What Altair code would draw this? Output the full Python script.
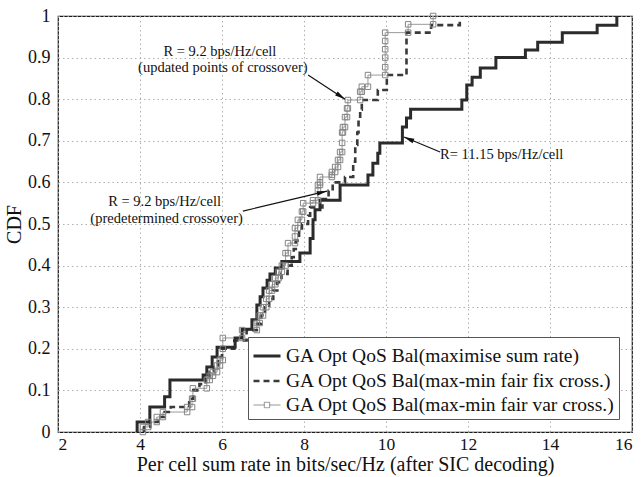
import math
import altair as alt
import pandas as pd

# ---------------- data ----------------
series_names = [
    "GA Opt QoS Bal(maximise sum rate)",
    "GA Opt QoS Bal(max-min fair fix cross.)",
    "GA Opt QoS Bal(max-min fair var cross.)",
]

# step positions (x) and the CDF level reached at each step (y)
solid_x = [3.93, 4.24, 4.6, 4.73, 5.54, 5.63, 5.76, 5.88, 6.32, 6.49,
           6.73, 6.85, 6.93, 7.0, 7.1, 7.17, 7.3, 7.46, 7.9, 8.15,
           8.22, 8.27, 8.39, 8.88, 9.56, 9.68, 9.8, 9.85, 10.4, 10.5,
           10.6, 11.85, 11.97, 12.1, 12.3, 12.68, 13.4, 13.7, 14.3, 15.15,
           15.63]
solid_y = [0.024, 0.06, 0.085, 0.125, 0.137, 0.156, 0.18, 0.204, 0.226, 0.247,
           0.27, 0.305, 0.325, 0.346, 0.365, 0.38, 0.394, 0.41, 0.43, 0.465,
           0.51, 0.534, 0.557, 0.594, 0.618, 0.646, 0.67, 0.695, 0.733, 0.755,
           0.776, 0.798, 0.834, 0.853, 0.875, 0.9, 0.918, 0.937, 0.96, 0.978,
           1.0]

dash_x = [4.1, 4.25, 4.45, 4.6, 4.75, 5.2, 5.3, 5.45, 5.6, 5.7,
          5.8, 5.9, 6.0, 6.3, 6.6, 6.85, 6.95, 7.05, 7.15, 7.25,
          7.35, 7.45, 7.6, 7.7, 7.75, 7.8, 7.88, 7.95, 8.1, 8.15,
          8.45, 8.6, 8.7, 9.0, 9.2, 9.25, 9.3, 9.33, 9.37, 9.41,
          9.8, 10.02, 10.5, 11.1, 11.8]
dash_y = [0.012, 0.024, 0.036, 0.048, 0.06, 0.08, 0.1, 0.115, 0.13, 0.145,
          0.16, 0.18, 0.2, 0.22, 0.245, 0.26, 0.28, 0.3, 0.32, 0.34,
          0.36, 0.38, 0.4, 0.42, 0.44, 0.46, 0.48, 0.5, 0.52, 0.54,
          0.56, 0.58, 0.6, 0.613, 0.65, 0.69, 0.72, 0.75, 0.775, 0.798,
          0.822, 0.858, 0.96, 0.978, 0.99]

sq_x = [4.07, 4.2, 4.41, 4.56, 5.15, 5.27, 5.29, 5.63, 5.7, 5.78,
        5.88, 5.95, 6.02, 6.02, 6.49, 6.85, 6.92, 7.0, 7.08, 7.15,
        7.22, 7.3, 7.38, 7.46, 7.55, 7.61, 7.78, 7.78, 7.85, 7.95,
        7.98, 8.22, 8.34, 8.34, 8.39, 8.39, 8.68, 8.68, 8.76, 8.83,
        8.88, 8.93, 8.93, 8.95, 9.0, 9.05, 9.07, 9.37, 9.41, 9.56,
        9.98, 9.98, 9.98, 9.98, 9.98, 10.54, 11.15]
sq_y = [0.012, 0.024, 0.036, 0.048, 0.06, 0.08, 0.105, 0.125, 0.135, 0.144,
        0.16, 0.173, 0.2, 0.226, 0.245, 0.262, 0.28, 0.3, 0.32, 0.34,
        0.355, 0.37, 0.385, 0.4, 0.43, 0.454, 0.47, 0.49, 0.51, 0.53,
        0.55, 0.557, 0.58, 0.594, 0.6, 0.613, 0.618, 0.625, 0.637, 0.654,
        0.673, 0.695, 0.72, 0.733, 0.757, 0.778, 0.798, 0.818, 0.83, 0.858,
        0.877, 0.9, 0.92, 0.94, 0.96, 0.98, 1.0]

x_ticks = [2, 4, 6, 8, 10, 12, 14, 16]
y_ticks = [0, 0.1, 0.2, 0.3, 0.4, 0.5, 0.6, 0.7, 0.8, 0.9, 1]

# annotations
ann_center_text = ["R = 9.2 bps/Hz/cell", "(updated points of crossover)",
                   "R = 9.2 bps/Hz/cell", "(predetermined crossover)"]
ann_center_x = [5.95, 6.02, 4.6, 4.65]
ann_center_y = [0.913, 0.874, 0.553, 0.512]
ann_left_text = ["R= 11.15 bps/Hz/cell"]
ann_left_x = [11.32]
ann_left_y = [0.667]

arrow_x1 = [8.1, 6.51, 11.32]
arrow_y1 = [0.858, 0.531, 0.673]
arrow_x2 = [9.0, 8.56, 10.44]
arrow_y2 = [0.80, 0.579, 0.709]

# ---------------- layout ----------------
W, H = 574, 416
XDOM, YDOM = [2, 16], [0, 1]
FONT = "Liberation Serif"


def staircase(xs, ys, start=0.0):
    pts = [(xs[0], start)]
    prev = start
    for x, y in zip(xs, ys):
        if pts[-1] != (x, prev):
            pts.append((x, prev))
        pts.append((x, y))
        prev = y
    return pd.DataFrame({"x": [p[0] for p in pts],
                         "y": [p[1] for p in pts],
                         "order": list(range(len(pts)))})


solid_df = staircase(solid_x, solid_y)
dash_df = staircase(dash_x, dash_y)
sq_df = staircase(sq_x, sq_y)

x_scale = alt.Scale(domain=XDOM, nice=False, zero=False)
y_scale = alt.Scale(domain=YDOM, nice=False, zero=False)

x_axis = alt.Axis(values=x_ticks, title="Per cell sum rate in bits/sec/Hz (after SIC decoding)",
                  grid=True, ticks=False, domain=False, labelPadding=3, titlePadding=2,
                  labelFontSize=17.5, titleFontSize=20)
y_axis = alt.Axis(values=y_ticks, title="CDF", format="~g", grid=True, ticks=False,
                  domain=False, labelPadding=8, titlePadding=3,
                  labelFontSize=18, titleFontSize=20)

X = alt.X("x:Q", scale=x_scale, axis=x_axis)
Y = alt.Y("y:Q", scale=y_scale, axis=y_axis)

solid = alt.Chart(solid_df).mark_line(color="#2b2b2b", strokeWidth=3).encode(
    x=X, y=Y, order="order:Q")
dashed = alt.Chart(dash_df).mark_line(color="#3a3a3a", strokeWidth=2.6,
                                      strokeDash=[6, 4]).encode(x=X, y=Y, order="order:Q")
sq_line = alt.Chart(sq_df).mark_line(color="#9a9a9a", strokeWidth=1).encode(
    x=X, y=Y, order="order:Q")
sq_pts = alt.Chart(sq_df).mark_point(shape="square", size=30, filled=False,
                                     color="#858585", strokeWidth=1, opacity=1).encode(x=X, y=Y)

# legend-only layer (no visible data)
line_path = "M-1,0H1"
sq_path = "M-1,0H-0.2M0.2,0H1M-0.2,-0.2H0.2V0.2H-0.2Z"
leg = alt.Legend(title=None, orient="none", legendX=190, legendY=321,
                 labelFont=FONT, labelFontSize=19.5, labelLimit=600, labelColor="#111",
                 symbolSize=729, padding=4, rowPadding=0, labelOffset=4,
                 strokeColor="#555", fillColor="white", cornerRadius=0)
legend_df = pd.DataFrame({"series": series_names, "x": [0, 0, 0], "y": [0, 0, 0]})
legend_layer = alt.Chart(legend_df).mark_point(filled=False, opacity=1).encode(
    x=X, y=Y,
    color=alt.Color("series:N", scale=alt.Scale(domain=series_names,
                                                range=["#2b2b2b", "#3a3a3a", "#8a8a8a"]), legend=leg),
    shape=alt.Shape("series:N", scale=alt.Scale(domain=series_names,
                                                range=[line_path, line_path, sq_path]), legend=leg),
    strokeDash=alt.StrokeDash("series:N", scale=alt.Scale(domain=series_names,
                                                          range=[[1, 0], [6, 4], [1, 0]]), legend=leg),
    strokeWidth=alt.StrokeWidth("series:N", scale=alt.Scale(type="ordinal", domain=series_names,
                                                            range=[3, 2.6, 1]), legend=leg),
).transform_filter("false")

# annotations
ann_c_df = pd.DataFrame({"x": ann_center_x, "y": ann_center_y, "t": ann_center_text})
ann_l_df = pd.DataFrame({"x": ann_left_x, "y": ann_left_y, "t": ann_left_text})
ann_c = alt.Chart(ann_c_df).mark_text(font=FONT, fontSize=14.5, align="center",
                                      baseline="middle", color="#111").encode(
    x=alt.X("x:Q", scale=x_scale), y=alt.Y("y:Q", scale=y_scale), text="t:N")
ann_l = alt.Chart(ann_l_df).mark_text(font=FONT, fontSize=14.5, align="left",
                                      baseline="middle", color="#111").encode(
    x=alt.X("x:Q", scale=x_scale), y=alt.Y("y:Q", scale=y_scale), text="t:N")

px_x = W / (XDOM[1] - XDOM[0])
px_y = H / (YDOM[1] - YDOM[0])
angles, hx, hy = [], [], []
for x1, y1, x2, y2 in zip(arrow_x1, arrow_y1, arrow_x2, arrow_y2):
    dx = (x2 - x1) * px_x
    dy = -(y2 - y1) * px_y
    ang = math.degrees(math.atan2(dx, -dy)) % 360
    n = math.hypot(dx, dy)
    back = 5.0
    hx.append(x2 - (dx / n) * back / px_x)
    hy.append(y2 + (dy / n) * back / px_y)
    angles.append(ang)

arrow_df = pd.DataFrame({"x": arrow_x1, "y": arrow_y1, "x2": arrow_x2, "y2": arrow_y2})
head_df = pd.DataFrame({"x": hx, "y": hy, "a": angles})
arrows = alt.Chart(arrow_df).mark_rule(color="#111", strokeWidth=1.2).encode(
    x=alt.X("x:Q", scale=x_scale), y=alt.Y("y:Q", scale=y_scale), x2="x2:Q", y2="y2:Q")
heads = alt.Chart(head_df).mark_point(shape="M0,-1L0.45,1L-0.45,1Z", filled=True,
                                      color="#111", size=110, opacity=1).encode(
    x=alt.X("x:Q", scale=x_scale), y=alt.Y("y:Q", scale=y_scale),
    angle=alt.Angle("a:Q", scale=None))

chart = alt.layer(
    sq_line, dashed, solid, sq_pts, arrows, heads, ann_c, ann_l, legend_layer
).properties(
    width=W, height=H,
    background="white",
    padding={"left": 58, "top": 16, "right": 10, "bottom": 45},
    autosize=alt.AutoSizeParams(type="none"),
).configure_view(
    stroke="#1a1a1a", strokeWidth=1.2
).configure_axis(
    labelFont=FONT, labelColor="#111",
    titleFont=FONT, titleColor="#111", titleFontWeight="normal",
    gridColor="#a8a8a8", gridDash=[1.5, 3], gridWidth=0.9
)

chart.save("out.html", embed_options={"renderer": "svg", "actions": False})
